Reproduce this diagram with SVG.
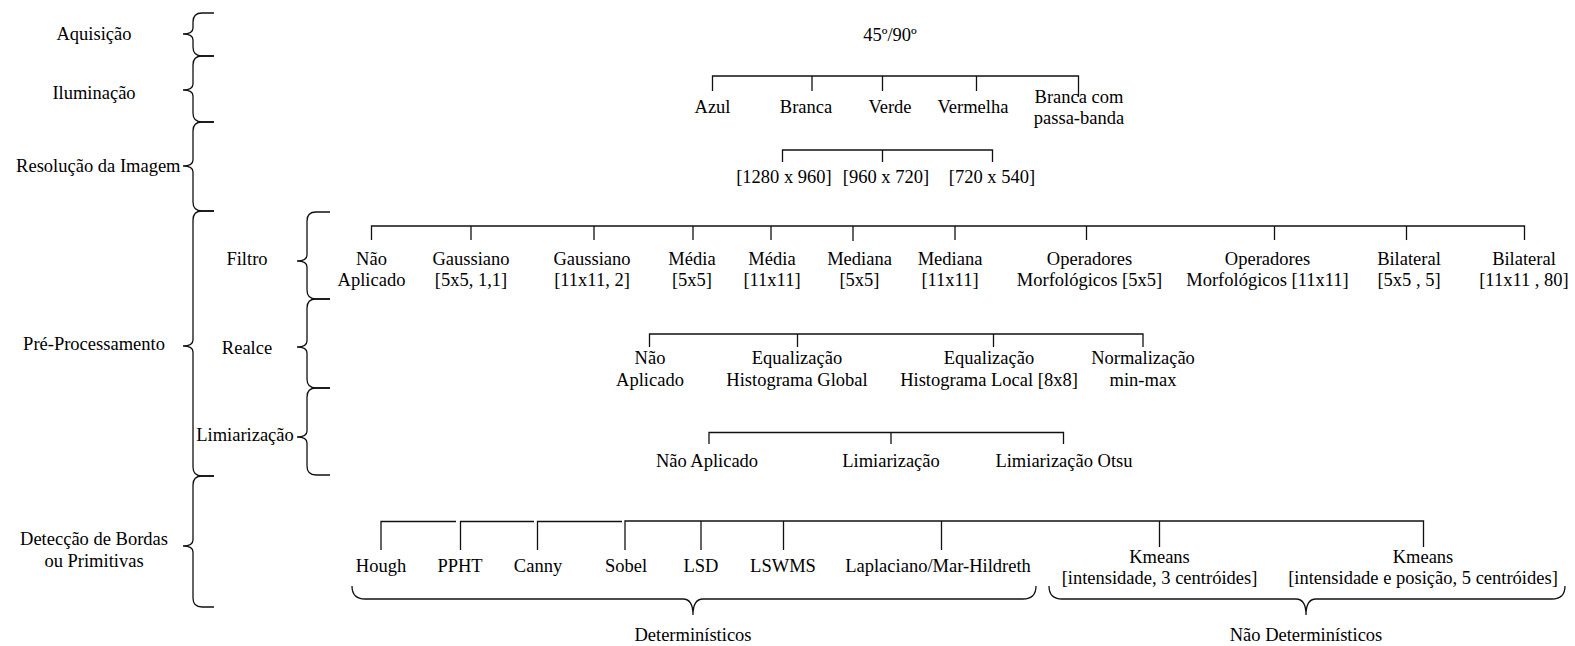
<svg xmlns="http://www.w3.org/2000/svg" width="1575" height="646" viewBox="0 0 1575 646">
<style>
text{font-family:"Liberation Serif","Times New Roman",serif;font-size:18.5px;fill:#000;text-anchor:middle}
.ln{fill:none;stroke:#111;stroke-width:1.3}
</style>
<rect width="1575" height="646" fill="#fff"/>
<g id="connectors" class="ln">
<!-- left braces -->
<path d="M214,13 L202,13 Q193,13 193,22 L193,28 Q193,34 183,34 Q193,34 193,40 L193,47 Q193,56 202,56 L214,56"/>
<path d="M214,56 L202,56 Q193,56 193,65 L193,84 Q193,90 183,90 Q193,90 193,96 L193,113 Q193,122 202,122 L214,122"/>
<path d="M214,122 L202,122 Q193,122 193,131 L193,160 Q193,166 183,166 Q193,166 193,172 L193,202 Q193,211 202,211 L214,211"/>
<path d="M214,211 L202,211 Q193,211 193,220 L193,340 Q193,346 183,346 Q193,346 193,352 L193,467 Q193,476 202,476 L214,476"/>
<path d="M214,476 L202,476 Q193,476 193,485 L193,540 Q193,546 183,546 Q193,546 193,552 L193,598 Q193,607 202,607 L214,607"/>
<path d="M330,212 L316,212 Q307,212 307,221 L307,255 Q307,261 297,261 Q307,261 307,267 L307,290 Q307,299 316,299 L330,299"/>
<path d="M330,299 L316,299 Q307,299 307,308 L307,341 Q307,347 297,347 Q307,347 307,353 L307,379 Q307,388 316,388 L330,388"/>
<path d="M330,388 L316,388 Q307,388 307,397 L307,431 Q307,437 297,437 Q307,437 307,443 L307,466 Q307,475 316,475 L330,475"/>
<!-- bottom braces -->
<path d="M352,586 Q352,599 365,599 L683,599 Q693,599 693,615 Q693,599 703,599 L1023,599 Q1036,599 1036,586"/>
<path d="M1049,586 Q1049,599 1062,599 L1296,599 Q1306,599 1306,615 Q1306,599 1316,599 L1552,599 Q1565,599 1565,586"/>
<!-- Iluminação tree -->
<path d="M712.5,91 V76 H1078.5 V97 M812,76 V91 M882.5,76 V91 M976.5,76 V91"/>
<!-- Resolução tree -->
<path d="M782.5,162 V150 H992.5 V162 M882.5,150 V162"/>
<!-- Filtro tree -->
<path d="M371.5,240 V226 H1524.5 V240 M471,226 V240 M594,226 V240 M693,226 V240 M771,226 V240 M853,226 V241 M955,226 V240 M1086.5,226 V240 M1274.5,226 V240 M1406.5,226 V240"/>
<!-- Realce tree -->
<path d="M649.5,347 V334 H1143 V347 M797.5,334 V347 M993.5,334 V347"/>
<!-- Limiarização tree -->
<path d="M709,444 V432.5 H1063.5 V444 M891,432.5 V444"/>
<!-- Detecção tree -->
<path d="M381,550 V521.5 H456 M460.5,550 V521.5 H534 M537.5,550 V521.5 H622 M625,550 V521 H1423.5 V547 M701,521 V550 M783.5,521 V550 M941.5,521 V550 M1159.5,521 V547"/>
</g>
<g id="aquisicao"><text x="94" y="40">Aquisição</text></g>
<g id="iluminacao"><text x="94" y="99">Iluminação</text></g>
<g id="resolucao"><text x="180.5" y="172" style="text-anchor:end">Resolução da Imagem</text></g>
<g id="preprocessamento"><text x="94" y="350">Pré-Processamento</text></g>
<g id="filtro"><text x="247" y="265">Filtro</text></g>
<g id="realce"><text x="247" y="354">Realce</text></g>
<g id="limiarizacao"><text x="245" y="441">Limiarização</text></g>
<g id="deteccao"><text x="94" y="545">Detecção de Bordas</text><text x="94" y="566.5">ou Primitivas</text></g>
<g id="angulo"><text x="890" y="41">45º/90º</text></g>
<g id="ilum-azul"><text x="712.5" y="113">Azul</text></g>
<g id="ilum-branca"><text x="806" y="113">Branca</text></g>
<g id="ilum-verde"><text x="890" y="113">Verde</text></g>
<g id="ilum-vermelha"><text x="973" y="113">Vermelha</text></g>
<g id="ilum-branca-pb"><text x="1079" y="102.5">Branca com</text><text x="1079" y="124">passa-banda</text></g>
<g id="res-1280"><text x="784" y="183">[1280 x 960]</text></g>
<g id="res-960"><text x="886" y="183">[960 x 720]</text></g>
<g id="res-720"><text x="992" y="183">[720 x 540]</text></g>
<g id="f-nao"><text x="371.5" y="264.5">Não</text><text x="371.5" y="286">Aplicado</text></g>
<g id="f-gauss5"><text x="471" y="264.5">Gaussiano</text><text x="471" y="286">[5x5, 1,1]</text></g>
<g id="f-gauss11"><text x="592" y="264.5">Gaussiano</text><text x="592" y="286">[11x11, 2]</text></g>
<g id="f-media5"><text x="692" y="264.5">Média</text><text x="692" y="286">[5x5]</text></g>
<g id="f-media11"><text x="772" y="264.5">Média</text><text x="772" y="286">[11x11]</text></g>
<g id="f-mediana5"><text x="859.5" y="264.5">Mediana</text><text x="859.5" y="286">[5x5]</text></g>
<g id="f-mediana11"><text x="950" y="264.5">Mediana</text><text x="950" y="286">[11x11]</text></g>
<g id="f-morf5"><text x="1089.5" y="264.5">Operadores</text><text x="1089.5" y="286">Morfológicos [5x5]</text></g>
<g id="f-morf11"><text x="1267.5" y="264.5">Operadores</text><text x="1267.5" y="286">Morfológicos [11x11]</text></g>
<g id="f-bil5"><text x="1409" y="264.5">Bilateral</text><text x="1409" y="286">[5x5 , 5]</text></g>
<g id="f-bil11"><text x="1524" y="264.5">Bilateral</text><text x="1524" y="286">[11x11 , 80]</text></g>
<g id="r-nao"><text x="650" y="364">Não</text><text x="650" y="385.5">Aplicado</text></g>
<g id="r-global"><text x="797" y="364">Equalização</text><text x="797" y="385.5">Histograma Global</text></g>
<g id="r-local"><text x="989" y="364">Equalização</text><text x="989" y="385.5">Histograma Local [8x8]</text></g>
<g id="r-norm"><text x="1143" y="364">Normalização</text><text x="1143" y="385.5">min-max</text></g>
<g id="l-nao"><text x="707" y="467">Não Aplicado</text></g>
<g id="l-limiar"><text x="891" y="467">Limiarização</text></g>
<g id="l-otsu"><text x="1064" y="467">Limiarização Otsu</text></g>
<g id="d-hough"><text x="381" y="572">Hough</text></g>
<g id="d-ppht"><text x="460" y="572">PPHT</text></g>
<g id="d-canny"><text x="538" y="572">Canny</text></g>
<g id="d-sobel"><text x="626" y="572">Sobel</text></g>
<g id="d-lsd"><text x="701" y="572">LSD</text></g>
<g id="d-lswms"><text x="783" y="572">LSWMS</text></g>
<g id="d-laplace"><text x="938" y="572">Laplaciano/Mar-Hildreth</text></g>
<g id="d-kmeans3"><text x="1159.5" y="562.5">Kmeans</text><text x="1159.5" y="583.5">[intensidade, 3 centróides]</text></g>
<g id="d-kmeans5"><text x="1423" y="562.5">Kmeans</text><text x="1423" y="583.5">[intensidade e posição, 5 centróides]</text></g>
<g id="deterministicos"><text x="693" y="641">Determinísticos</text></g>
<g id="nao-deterministicos"><text x="1306" y="641">Não Determinísticos</text></g>
</svg>
